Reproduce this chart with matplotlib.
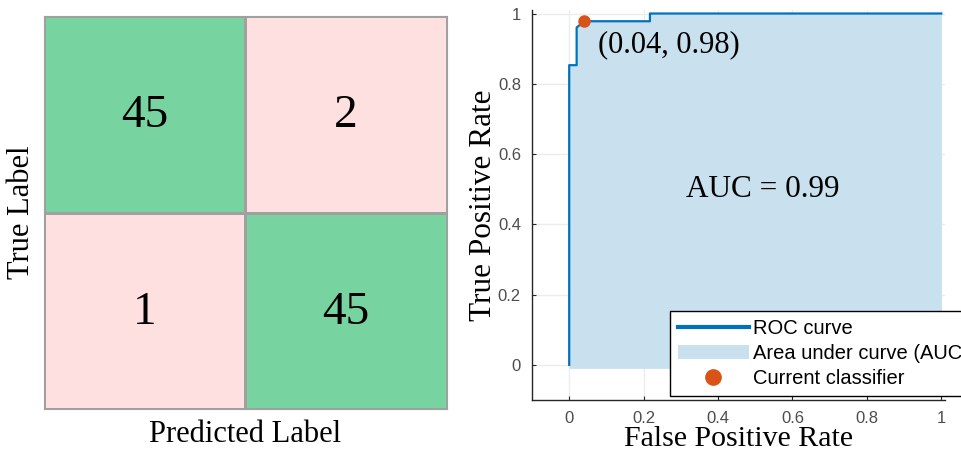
import numpy as np
import matplotlib
matplotlib.use("Agg")
import matplotlib.pyplot as plt
from matplotlib.colors import ListedColormap, BoundaryNorm
from matplotlib.lines import Line2D
from matplotlib.patches import Patch

# confusion matrix counts (rows = true, cols = predicted)
cm_values = [[45, 2],
             [1, 45]]

# ROC curve points
fpr = [0.0, 0.0, 0.02, 0.02, 0.04, 0.217, 0.217, 1.0]
tpr = [0.0, 0.853, 0.853, 0.96, 0.978, 0.978, 1.0, 1.0]
auc_value = 0.99
current_point = (0.04, 0.98)
ticks = [0, 0.2, 0.4, 0.6, 0.8, 1]
tick_labels = ['0', '0.2', '0.4', '0.6', '0.8', '1']

serif = ['Liberation Serif', 'DejaVu Serif']
sans = ['Liberation Sans', 'DejaVu Sans']

W, H = 962, 453
fig = plt.figure(figsize=(W / 100, H / 100), dpi=100)

# --- confusion matrix ---
ax1 = fig.add_axes([44 / W, (H - 409) / H, 403 / W, 393 / H])
cmap = ListedColormap(['#FFE0E1', '#77D4A0'])
norm = BoundaryNorm([0, 10, 100], cmap.N)
cm = np.array(cm_values)
ax1.pcolormesh(np.arange(3), np.arange(3), cm, cmap=cmap, norm=norm,
               edgecolors='#a0a0a0', linewidth=1)
ax1.set_xlim(0, 2)
ax1.set_ylim(2, 0)
for i in range(2):
    for j in range(2):
        ax1.text(j + 0.5, i + 0.5 + 0.01, str(cm[i, j]), ha='center', va='center',
                 fontsize=34, family=serif, color='black')
ax1.set_xticks([])
ax1.set_yticks([])
for s in ax1.spines.values():
    s.set_color('#a0a0a0')
ax1.set_xlabel('Predicted Label', fontsize=22, family=serif, labelpad=8)
ax1.set_ylabel('True Label', fontsize=22, family=serif, labelpad=6)

# --- ROC curve ---
ax2 = fig.add_axes([532 / W, (H - 400) / H, 413 / W, 390 / H])
ax2.set_xlim(-0.1, 1.01)
ax2.set_ylim(-0.1, 1.01)
ax2.set_axisbelow(True)
ax2.grid(True, color='#ececec', linewidth=1)
ax2.fill_between(fpr, tpr, -0.01, color='#C9E0EF', linewidth=0, zorder=2)
ax2.plot(fpr, tpr, color='#0072BD', linewidth=1.6, zorder=3)
ax2.plot(*current_point, 'o', color='#D95319', markersize=8, zorder=4)
ax2.text(0.078, 0.91, '(%.2f, %.2f)' % current_point, fontsize=22,
         family=serif, ha='left', va='center', zorder=5)
ax2.text(0.52, 0.50, 'AUC = %.2f' % auc_value, fontsize=22.5, family=serif,
         ha='center', va='center', zorder=5)

for side in ['top', 'right']:
    ax2.spines[side].set_visible(False)
for side in ['left', 'bottom']:
    ax2.spines[side].set_color('#262626')
    ax2.spines[side].set_linewidth(1.0)
ax2.set_xticks(ticks)
ax2.set_yticks(ticks)
ax2.set_xticklabels(tick_labels, family=sans)
ax2.set_yticklabels(tick_labels, family=sans)
ax2.tick_params(direction='in', length=3, labelsize=12, colors='#262626',
                labelcolor='#4d4d4d', pad=8)
ax2.set_xlabel('False Positive Rate', fontsize=21.5, family=serif, labelpad=0)
ax2.set_ylabel('True Positive Rate', fontsize=22.5, family=serif, labelpad=0)

handles = [
    Line2D([], [], color='#0072BD', linewidth=3),
    Patch(facecolor='#C9E0EF', edgecolor='none'),
    Line2D([], [], color='#D95319', marker='o', linestyle='none', markersize=11),
]
labels = ['ROC curve', 'Area under curve (AUC)', 'Current classifier']
leg = fig.legend(handles, labels, loc='lower left',
                 bbox_to_anchor=(670 / W, (H - 396) / H),
                 bbox_transform=fig.transFigure, borderaxespad=0,
                 prop={'family': sans, 'size': 14.5}, fancybox=False,
                 framealpha=1, edgecolor='black', handlelength=3.5,
                 handletextpad=0.2, labelspacing=0.3, borderpad=0.4)
leg.get_frame().set_linewidth(1.0)

fig.savefig('out.png', dpi=100)
